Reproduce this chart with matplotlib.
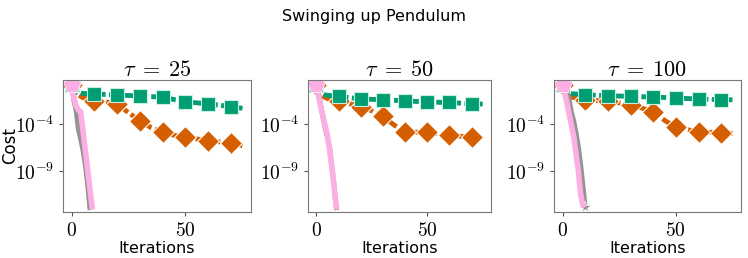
import numpy as np
from matplotlib import pyplot as plt

plt.rcParams['mathtext.fontset'] = 'cm'
plt.rcParams['font.family'] = ['DejaVu Sans']

iters = [0, 1, 5, 10, 15, 20, 25, 30, 35, 40, 45, 50, 55, 60, 65, 70, 75]

taus = [25, 50, 100]

# log10(cost) per panel
orange_log = [
    [0.2, -0.6, -1.2, -1.52, -1.65, -1.87, -2.8, -3.65, -4.4, -4.89, -5.2, -5.42, -5.6, -5.77, -5.9, -6.05, -6.3],
    [0.2, -0.8, -1.3, -1.6, -1.85, -2.14, -2.6, -3.2, -4.1, -4.83, -4.88, -4.9, -5.05, -5.2, -5.3, -5.43, -5.54],
    [0.2, -0.9, -1.2, -1.4, -1.5, -1.6, -1.75, -1.96, -2.3, -2.68, -3.6, -4.36, -4.6, -4.83, -4.88, -4.92, -5.0],
]
green_log = [
    [0.1, -0.6, -0.75, -0.81, -0.86, -0.91, -0.97, -1.02, -1.08, -1.16, -1.4, -1.63, -1.75, -1.87, -2.0, -2.16, -2.33],
    [0.1, -0.8, -0.95, -1.06, -1.2, -1.34, -1.38, -1.42, -1.48, -1.53, -1.6, -1.67, -1.69, -1.71, -1.78, -1.85, -1.88],
    [0.1, -0.7, -0.8, -0.88, -0.94, -0.99, -1.03, -1.06, -1.1, -1.13, -1.18, -1.24, -1.29, -1.34, -1.38, -1.42, -1.42],
]
gray_log = [
    [0.3, -1.5, -2.6, -4.6, -5.6, -6.8, -8.3, -10.3, -12.9],
    [0.3, -0.6, -2.0, -3.3, -4.5, -5.4, -6.5, -8.5, -10.5, -12.9],
    [0.3, -0.2, -0.6, -1.5, -2.8, -3.7, -5.0, -6.4, -8.3, -10.5, -12.8],
]
pink_log = [
    [0.2, -1.2, -2.1, -2.5, -2.7, -4.7, -6.7, -8.7, -10.8, -12.8],
    [0.2, -1.0, -2.2, -3.2, -4.2, -5.2, -6.8, -8.6, -10.6, -12.8],
    [0.2, -0.7, -1.8, -3.0, -4.2, -5.4, -7.2, -9.0, -11.5, -12.6],
]

ORANGE = '#d55e00'
GREEN = '#029e73'
GRAY = '#949494'
PINK = '#fbafe4'

fig = plt.figure(figsize=(7.48, 2.58), dpi=100)
W, H = 748, 258
boxes = [(63, 251), (308, 491), (554, 741)]
top, bottom = 80, 212

mark10 = [i for i, v in enumerate(iters) if v % 10 == 0]

for k, tau in enumerate(taus):
    l, r = boxes[k]
    ax = fig.add_axes([l / W, (H - bottom) / H, (r - l) / W, (bottom - top) / H])

    ax.plot(iters, np.power(10.0, orange_log[k]), color=ORANGE, lw=3.5,
            dashes=(2.2, 0.7), marker='D', ms=11, markevery=mark10,
            mec='white', mew=0.8)
    ax.plot(iters, np.power(10.0, green_log[k]), color=GREEN, lw=3.5,
            dashes=(2.2, 0.7), marker='s', ms=10, markevery=mark10,
            mec='#c8efe0', mew=0.8)
    g = np.arange(len(gray_log[k]))
    ax.plot(g, np.power(10.0, gray_log[k]), '-', color=GRAY, lw=3.5,
            marker='*', ms=9, markevery=10, mec='white', mew=0.5)
    p = np.arange(len(pink_log[k]))
    ax.plot(p, np.power(10.0, pink_log[k]), '-', color=PINK, lw=4,
            marker='p', ms=13, markevery=10, mec='white', mew=0.5)

    ax.set_yscale('log')
    ax.set_ylim(10 ** -13.36, 10 ** 0.68)
    ax.set_xlim(-3.75, 78.75)
    ax.set_yticks([1e-9, 1e-4])
    ax.set_yticklabels([r'$10^{-9}$', r'$10^{-4}$'])
    ax.minorticks_off()
    ax.set_xticks([0, 50])
    ax.set_xticklabels([r'$0$', r'$50$'])
    ax.tick_params(labelsize=14, length=3, color='#555555')
    for s in ax.spines.values():
        s.set_color('#777777')

    ax.set_title(r'$\tau\;=\;%d$' % tau, fontsize=16, pad=3)
    ax.set_xlabel('Iterations', fontsize=11.5, labelpad=1)
    if k == 0:
        ax.set_ylabel('Cost', fontsize=12)
        ax.yaxis.set_label_coords(-0.235, 0.5)

fig.suptitle('Swinging up Pendulum', fontsize=11.5, y=0.965)

fig.savefig('out.png', dpi=100)
